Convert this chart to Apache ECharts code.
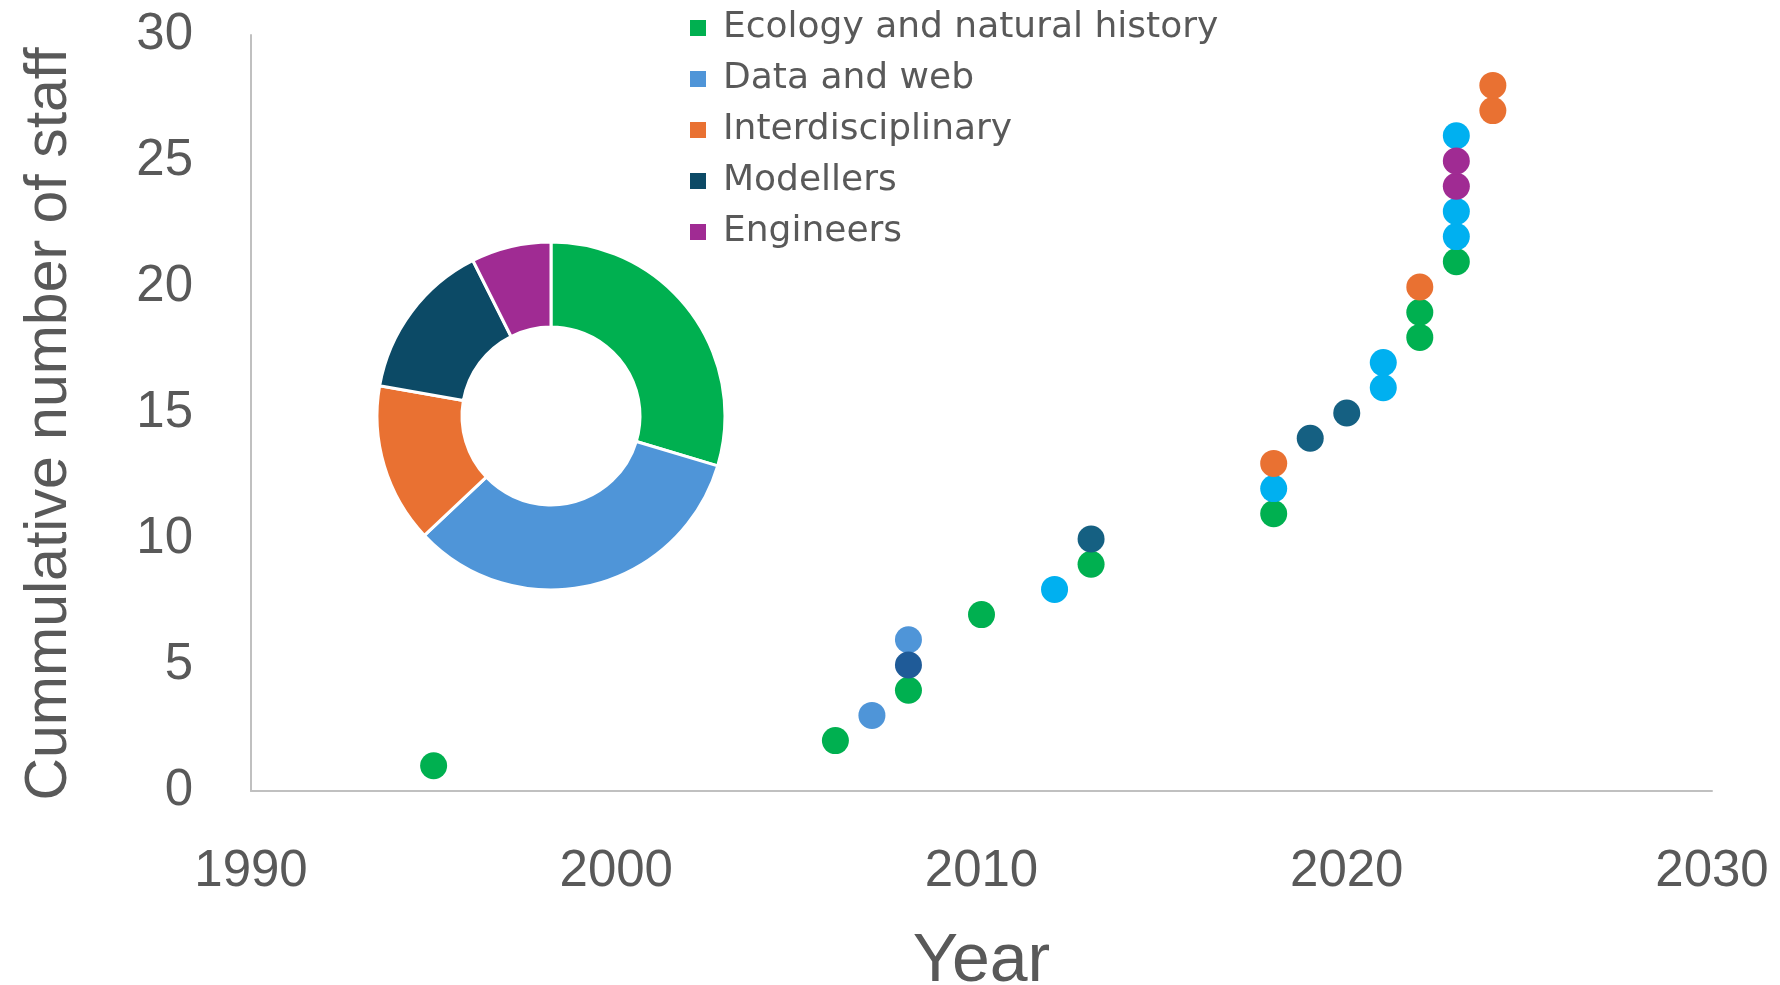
<!DOCTYPE html>
<html>
<head>
<meta charset="utf-8">
<script src="https://cdn.jsdelivr.net/npm/echarts@6/dist/echarts.min.js"></script>
<style>
  html, body { margin: 0; padding: 0; background: #fff; }
  #chart { width: 1780px; height: 985px; }
</style>
</head>
<body>
<div id="chart"></div>
<script>
// staff groups (legend + donut)
const groups = ['Ecology and natural history', 'Data and web', 'Interdisciplinary', 'Modellers', 'Engineers'];
const groupColors = ['#00B050', '#4F95D8', '#E97132', '#0C4A66', '#A02B93'];
const staffByGroup = [8, 9, 4, 4, 2];

// cumulative staff points [year, count]
const ecologyPts = [[1995, 1], [2006, 2], [2008, 4], [2010, 7], [2013, 9], [2018, 11], [2022, 18], [2022, 19], [2023, 21]];
const dataWebEarlyPts = [[2007, 3], [2008, 6]];
const dataWebPts = [[2012, 8], [2018, 12], [2021, 16], [2021, 17], [2023, 22], [2023, 23], [2023, 26]];
const interPts = [[2018, 13], [2022, 20], [2024, 27], [2024, 28]];
const modellerEarlyPts = [[2008, 5]];
const modellerPts = [[2013, 10], [2019, 14], [2020, 15]];
const engineerPts = [[2023, 24], [2023, 25]];

const chart = echarts.init(document.getElementById('chart'));

const font = '"Liberation Sans", Arial, sans-serif';

function pts(name, data, color) {
    return {
        name: name,
        type: 'scatter',
        symbolSize: 27,
        itemStyle: { color: color, opacity: 1 },
        data: data,
        z: 3
    };
}

const option = {
    animation: false,
    backgroundColor: '#fff',
    textStyle: { fontFamily: font },
    legend: {
        data: groups,
        orient: 'vertical',
        left: 683,
        top: 5,
        icon: 'path://M0,0h10v10h-10z',
        itemWidth: 40,
        itemHeight: 18,
        itemGap: 15,
        textStyle: { fontSize: 36, color: '#595959', fontFamily: '"DejaVu Sans", sans-serif' },
        selectedMode: false
    },
    grid: { left: 251, right: 68, top: 35, bottom: 194, outerBoundsMode: 'none' },
    xAxis: {
        type: 'value',
        min: 1990,
        max: 2030,
        interval: 10,
        name: 'Year',
        nameLocation: 'middle',
        nameGap: 137,
        nameTextStyle: { fontSize: 68, color: '#595959' },
        axisLine: { show: true, lineStyle: { color: '#C0C0C0', width: 2 } },
        axisTick: { show: false },
        splitLine: { show: false },
        axisLabel: { fontSize: 51, color: '#595959', margin: 55, formatter: v => String(v) }
    },
    yAxis: {
        type: 'value',
        min: 0,
        max: 30,
        interval: 5,
        name: 'Cummulative number of staff',
        nameLocation: 'middle',
        nameGap: 172,
        nameTextStyle: { fontSize: 59, color: '#595959', padding: [0, 22, 0, 0] },
        axisLine: { show: true, lineStyle: { color: '#C0C0C0', width: 2 } },
        axisTick: { show: false },
        splitLine: { show: false },
        axisLabel: { fontSize: 51, color: '#595959', margin: 58 }
    },
    series: [
        {
            type: 'pie',
            center: [551, 416],
            radius: [89, 174],
            startAngle: 90,
            label: { show: false },
            labelLine: { show: false },
            itemStyle: { borderColor: '#fff', borderWidth: 3 },
            data: groups.map((g, i) => ({ name: g, value: staffByGroup[i], itemStyle: { color: groupColors[i] } })),
            z: 1
        },
        pts('eco', ecologyPts, '#00B050'),
        pts('dw1', dataWebEarlyPts, '#4F95D8'),
        pts('dw2', dataWebPts, '#00B0F0'),
        pts('int', interPts, '#E97132'),
        pts('mod1', modellerEarlyPts, '#1F5B98'),
        pts('mod2', modellerPts, '#156082'),
        pts('eng', engineerPts, '#A02B93')
    ]
};

chart.setOption(option);
</script>
</body>
</html>
